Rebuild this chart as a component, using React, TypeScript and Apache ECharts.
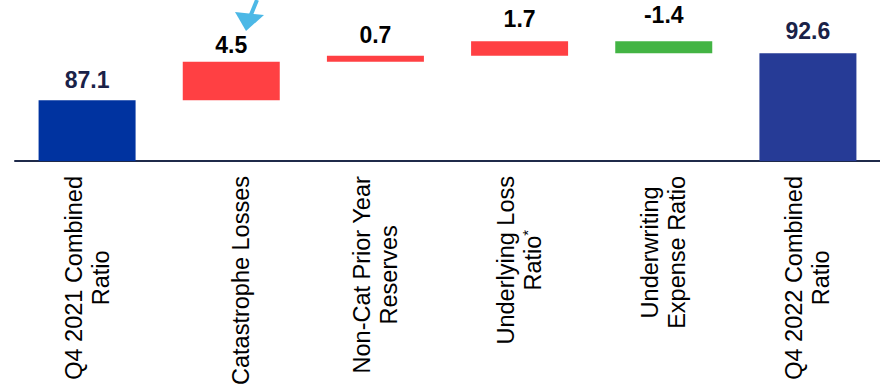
import React, { useEffect, useRef } from "react";
import * as echarts from "echarts";

const categories = [
  "Q4 2021 Combined\nRatio",
  "Catastrophe Losses",
  "Non-Cat Prior Year\nReserves",
  "Underlying Loss\nRatio*",
  "Underwriting\nExpense Ratio",
  "Q4 2022 Combined\nRatio",
];
const changes = [87.1, 4.5, 0.7, 1.7, -1.4, 92.6];
const kinds = ["total", "step", "step", "step", "step", "total"];
const barColors = ["#0033a0", "#ff4043", "#ff4043", "#ff4043", "#43b444", "#263b96"];
const labelColors = ["#1a2248", "#000000", "#000000", "#000000", "#000000", "#1a2248"];
const labelGaps = [8.5, 5, 9.5, 10.5, 14.5, 11];

const FONT = "'Liberation Sans', Arial, sans-serif";
const AXIS_FS = 23.5;

function buildWaterfall() {
  const base: number[] = [];
  const height: number[] = [];
  let running = 0;
  changes.forEach((v, i) => {
    if (kinds[i] === "total") {
      base.push(0);
      height.push(v);
      running = v;
    } else if (v >= 0) {
      base.push(running);
      height.push(v);
      running += v;
    } else {
      running += v;
      base.push(running);
      height.push(-v);
    }
  });
  return { base, height };
}

export default function App() {
  const ref = useRef<HTMLDivElement>(null);
  useEffect(() => {
    if (!ref.current) return;
    const chart = echarts.init(ref.current, null, { renderer: "svg" });
    const { base, height } = buildWaterfall();
    chart.setOption({
      animation: false,
      grid: {
        left: 15,
        right: 0,
        top: 7,
        bottom: 226,
        containLabel: false,
        outerBoundsMode: "none",
      },
      xAxis: {
        type: "category",
        data: categories.map((c, i) =>
          i === 1 ? { value: c, textStyle: { padding: [20, 0, 0, 0] } } : c
        ),
        axisTick: { show: false },
        axisLine: { show: true, lineStyle: { color: "#1f2a4a", width: 2 } },
        axisLabel: {
          interval: 0,
          rotate: 90,
          margin: 15,
          fontSize: AXIS_FS,
          lineHeight: 27,
          fontFamily: FONT,
          color: "#000",
          formatter: (v: string) =>
            v
              .split("\n")
              .map((line) =>
                line.endsWith("*")
                  ? `{c|${line.slice(0, -1)}}{s|*}`
                  : `{c|${line}}`
              )
              .join("\n"),
          rich: {
            c: { align: "center", fontSize: AXIS_FS, lineHeight: 27, fontFamily: FONT, color: "#000" },
            s: { align: "center", fontSize: 15, lineHeight: 27, fontFamily: FONT, color: "#000", verticalAlign: "top" },
          },
        },
      },
      yAxis: {
        type: "value",
        min: 80,
        max: 98,
        show: false,
        splitLine: { show: false },
      },
      series: [
        {
          type: "bar",
          stack: "wf",
          silent: true,
          barWidth: 97,
          itemStyle: { color: "transparent" },
          data: base,
        },
        {
          type: "bar",
          stack: "wf",
          barWidth: 97,
          data: height.map((h, i) => ({
            value: h,
            itemStyle: { color: barColors[i] },
            label: { distance: labelGaps[i], color: labelColors[i] },
          })),
          label: {
            show: true,
            position: "top",
            fontSize: 23,
            fontWeight: "bold",
            fontFamily: FONT,
            formatter: (p: any) => changes[p.dataIndex].toFixed(1),
          },
        },
      ],
      graphic: [
        {
          type: "line",
          shape: { x1: 257, y1: 0, x2: 250, y2: 17 },
          style: { stroke: "#4cb8e6", lineWidth: 4 },
        },
        {
          type: "polygon",
          shape: { points: [[235, 12], [264, 15], [246, 31]] },
          style: { fill: "#4cb8e6" },
        },
      ],
    });
    return () => chart.dispose();
  }, []);
  return (
    <div
      ref={ref}
      style={{ position: "fixed", left: 0, top: 0, width: 880, height: 387, background: "#fff" }}
    />
  );
}
